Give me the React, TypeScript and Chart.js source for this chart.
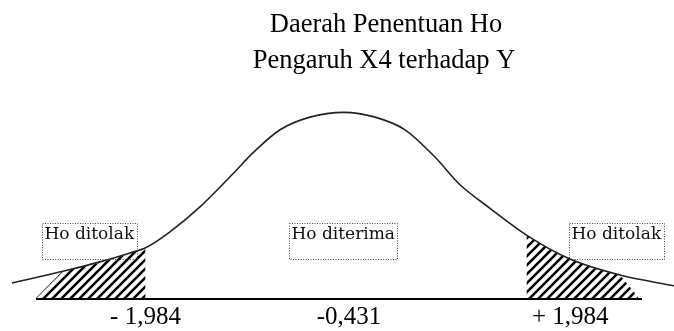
import React, { useEffect, useRef } from "react";
import { Chart, registerables } from "chart.js";

Chart.register(...registerables);

// Bell curve of the t distribution (x in t units, y as density)
const curveT = [-3.375, -2.823, -2.458, -2.146, -1.984, -1.729, -1.417, -1.104, -0.844, -0.583, -0.271, 0.083, 0.406, 0.719, 1.031, 1.292, 1.604, 1.984, 2.438, 2.958, 3.521];
const curveY = [0.034, 0.06, 0.079, 0.098, 0.109, 0.143, 0.196, 0.26, 0.315, 0.36, 0.387, 0.397, 0.387, 0.36, 0.302, 0.243, 0.193, 0.136, 0.085, 0.051, 0.028];

// Rejection regions (hatched)
const leftTailT = [-3.125, -2.854, -2.458, -2.146, -1.984];
const leftTailY = [0.002, 0.058, 0.077, 0.097, 0.108];
const rightTailT = [1.984, 2.2, 2.438, 2.75, 2.958, 3.146];
const rightTailY = [0.135, 0.109, 0.085, 0.063, 0.051, 0.004];

// Horizontal axis line
const axisT = [-3.125, 3.1875];

// Critical values and the test statistic
const tickT = [-1.984, 0.135, 2.44];
const tickLabels = ["- 1,984", "-0,431", "+ 1,984"];

// Region labels
const regionLabels = ["Ho ditolak", "Ho diterima", "Ho ditolak"];
const regionT = [-3.062, -0.49, 2.427];

const titleLines = ["Daerah Penentuan Ho", "Pengaruh X4 terhadap Y"];

const pts = (xs: number[], ys: number[]) => xs.map((x, i) => ({ x, y: ys[i] }));

function makeHatch(): CanvasPattern | string {
  const s = 9;
  const c = document.createElement("canvas");
  c.width = s;
  c.height = s;
  const g = c.getContext("2d");
  if (!g) return "#000";
  g.strokeStyle = "#000";
  g.lineWidth = 2.6;
  g.beginPath();
  g.moveTo(0, s);
  g.lineTo(s, 0);
  g.moveTo(-2, 2);
  g.lineTo(2, -2);
  g.moveTo(s - 2, s + 2);
  g.lineTo(s + 2, s - 2);
  g.stroke();
  const p = g.createPattern(c, "repeat");
  return p || "#000";
}

const textPlugin = {
  id: "regionText",
  afterDraw(chart: any) {
    const ctx = chart.ctx as CanvasRenderingContext2D;
    const xs = chart.scales.x;
    const ys = chart.scales.y;
    ctx.save();

    // title
    ctx.fillStyle = "#000";
    ctx.font = '26.5px "Liberation Serif", "Times New Roman", serif';
    ctx.textAlign = "center";
    ctx.textBaseline = "alphabetic";
    ctx.fillText(titleLines[0], 386, 32);
    ctx.fillText(titleLines[1], 384, 68);

    // axis labels
    ctx.font = '25px "Liberation Serif", "Times New Roman", serif';
    const base = ys.getPixelForValue(0);
    tickLabels.forEach((t, i) => {
      ctx.fillText(t, xs.getPixelForValue(tickT[i]), base + 25);
    });

    // dotted label boxes
    ctx.font = '17px "DejaVu Serif", serif';
    ctx.textAlign = "left";
    regionLabels.forEach((t, i) => {
      const x0 = Math.round(xs.getPixelForValue(regionT[i])) + 0.5;
      const w = ctx.measureText(t).width;
      const y0 = 223.5;
      ctx.setLineDash([1, 1.5]);
      ctx.lineWidth = 1;
      ctx.strokeStyle = "#444";
      ctx.strokeRect(x0, y0, Math.round(w + 5), 36);
      ctx.setLineDash([]);
      ctx.fillStyle = "#111";
      ctx.fillText(t, x0 + 2, 239);
    });
    ctx.restore();
  },
};

export default function App() {
  const ref = useRef<HTMLCanvasElement | null>(null);

  useEffect(() => {
    if (!ref.current) return;
    const hatch = makeHatch();
    const chart = new Chart(ref.current, {
      type: "scatter",
      data: {
        datasets: [
          {
            data: pts(curveT, curveY),
            showLine: true,
            borderColor: "#222",
            borderWidth: 1.6,
            pointRadius: 0,
            cubicInterpolationMode: "monotone",
            fill: false,
          },
          {
            data: pts(axisT, [0, 0]),
            showLine: true,
            borderColor: "#000",
            borderWidth: 2,
            pointRadius: 0,
            fill: false,
          },
          {
            data: pts(leftTailT, leftTailY),
            showLine: true,
            borderWidth: 0,
            borderColor: "rgba(0,0,0,0)",
            backgroundColor: hatch as any,
            pointRadius: 0,
            tension: 0,
            fill: "origin",
          },
          {
            data: pts(rightTailT, rightTailY),
            showLine: true,
            borderWidth: 0,
            borderColor: "rgba(0,0,0,0)",
            backgroundColor: hatch as any,
            pointRadius: 0,
            tension: 0,
            fill: "origin",
          },
        ],
      },
      options: {
        animation: false,
        responsive: true,
        maintainAspectRatio: false,
        layout: { padding: 0 },
        plugins: {
          legend: { display: false },
          tooltip: { enabled: false },
          title: { display: false },
        },
        scales: {
          x: { type: "linear", display: false, min: -3.5, max: 3.5208 },
          y: { type: "linear", display: false, min: -32 / 470, max: 299 / 470 },
        },
      },
      plugins: [textPlugin],
    });
    return () => chart.destroy();
  }, []);

  return (
    <div style={{ position: "absolute", left: 0, top: 0, width: 674, height: 331, background: "#fff" }}>
      <canvas ref={ref} />
    </div>
  );
}
